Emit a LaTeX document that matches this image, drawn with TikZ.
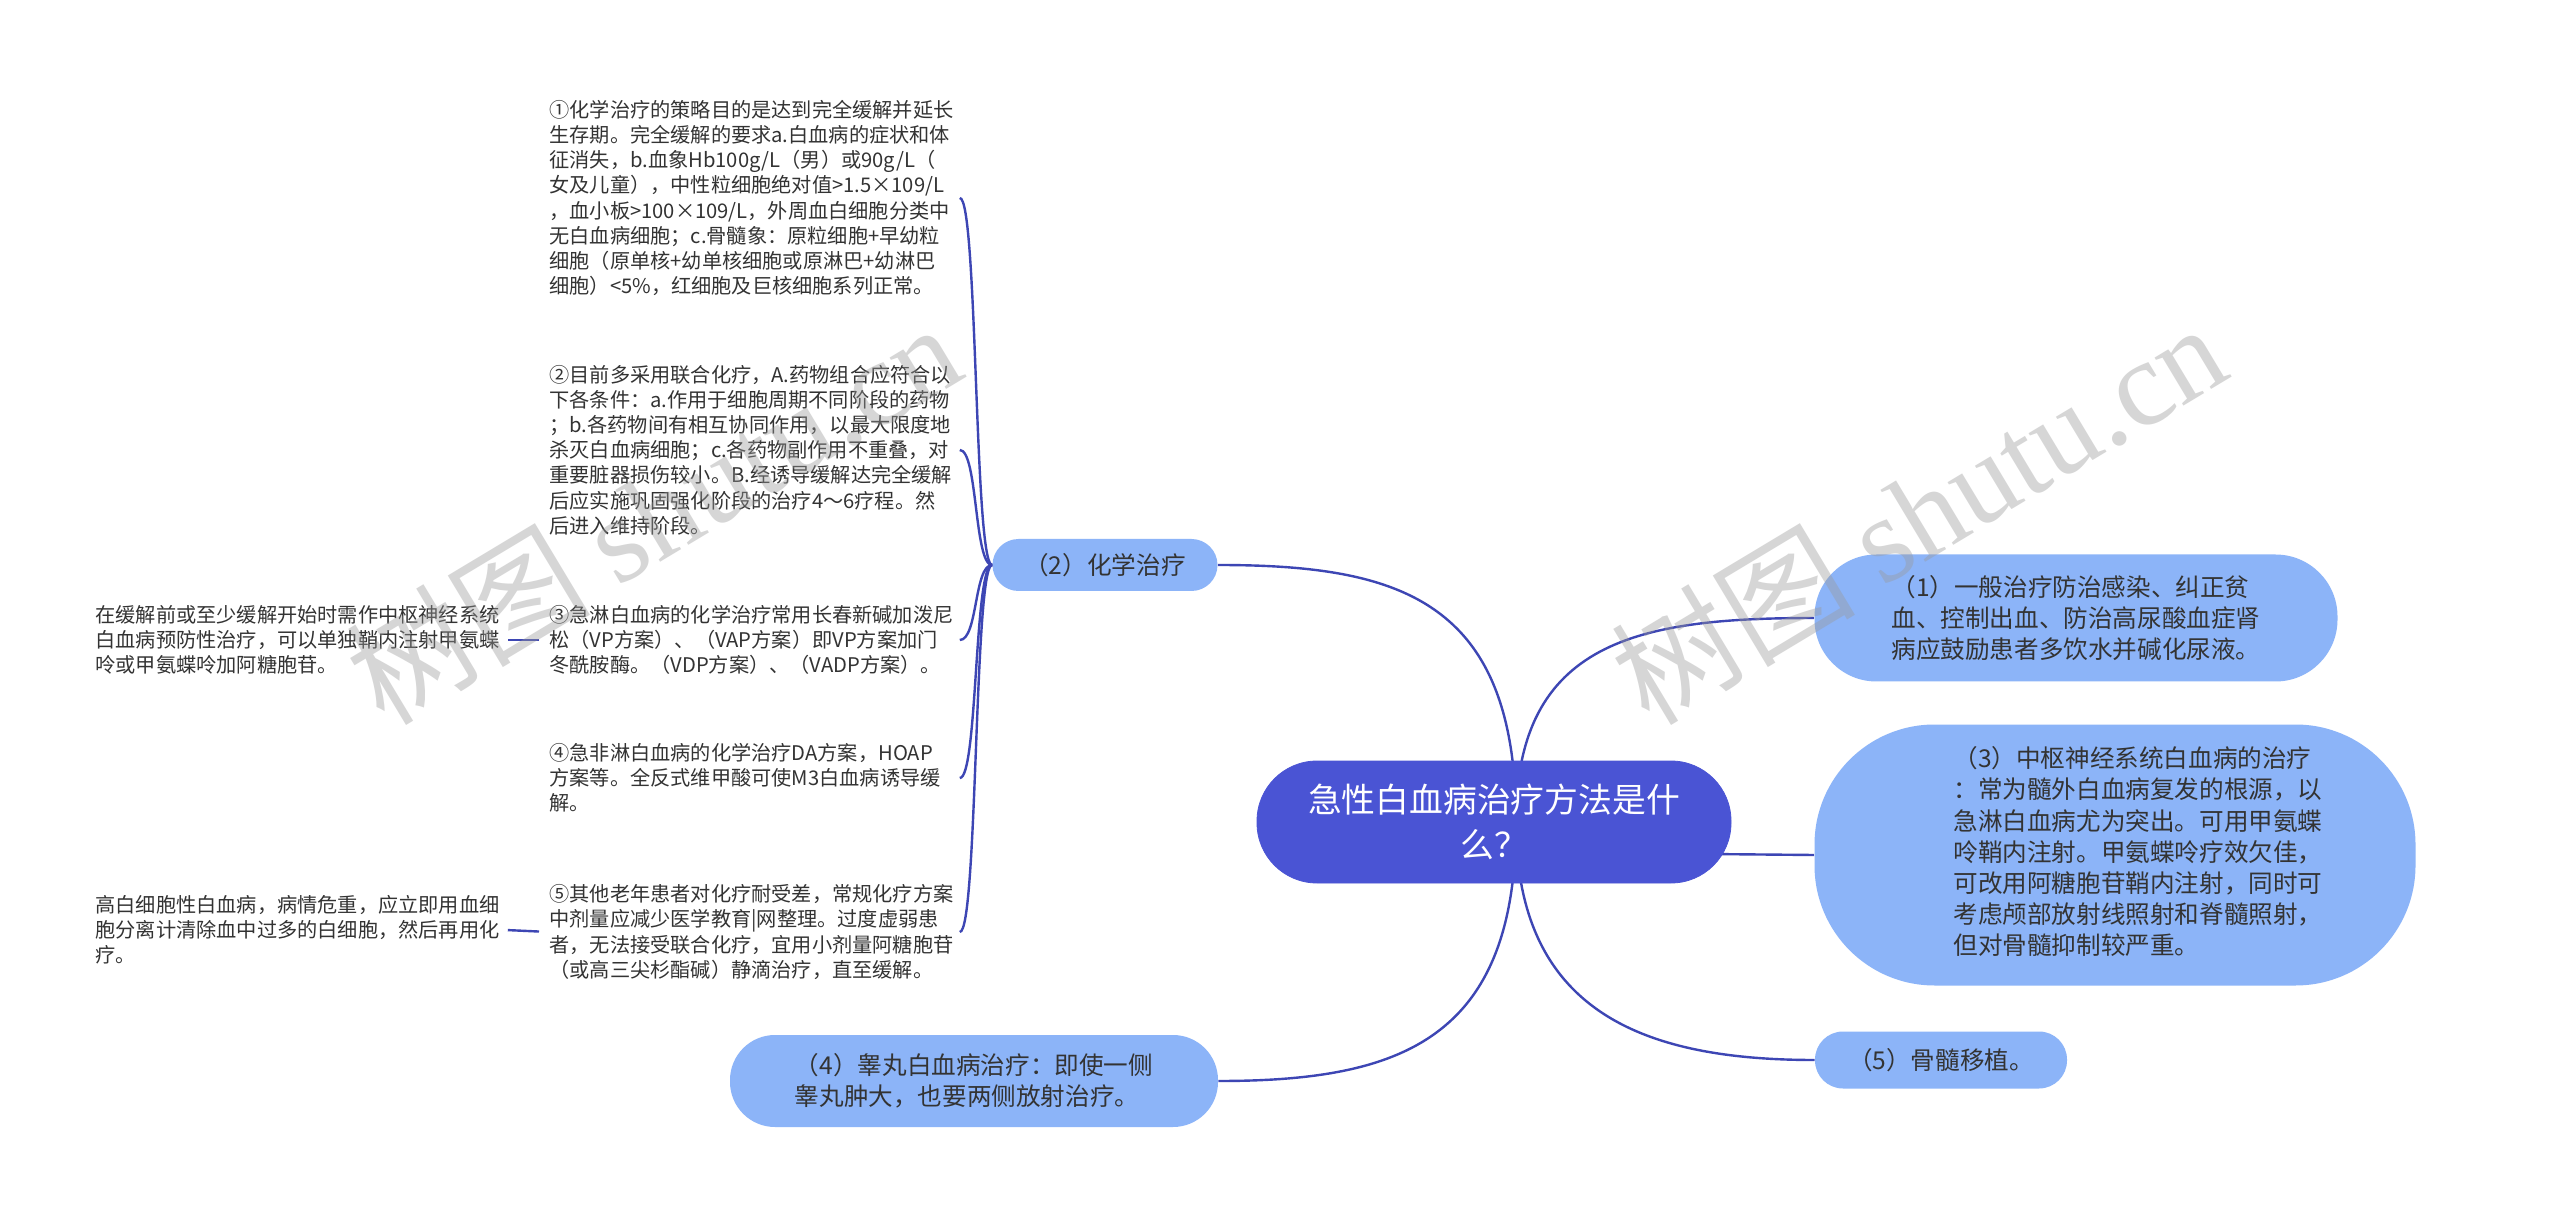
\documentclass[tikz,border=0pt]{standalone}
\usepackage{fontspec}
\setmainfont{Noto Sans CJK SC}
\newfontfamily\wmfont{Liberation Serif}
\usetikzlibrary{backgrounds}
\definecolor{linkblue}{HTML}{3D46B4}
\definecolor{rootblue}{HTML}{4A54D4}
\definecolor{branchblue}{HTML}{8CB4F8}
\definecolor{txtgray}{HTML}{333333}
\tikzset{%
    root/.style={rounded corners=30pt,fill=rootblue,draw=rootblue,text=white,minimum width=237pt,minimum height=61pt,font=\fontsize{16.9}{22.5}\selectfont,align=center},
    branch/.style={fill=branchblue,text=txtgray,font=\fontsize{12.3}{15.6}\selectfont,inner sep=0pt},
    leaf/.style={text=txtgray,font=\fontsize{10.1}{12.6}\selectfont,align=left,text width=205pt,inner sep=0pt,anchor=west},
    link/.style={draw=linkblue,line width=1.2pt},
    wmark/.style={text=black!40,opacity=0.4,rotate=31,font=\fontsize{61}{64}\selectfont}
}

\begin{document}
\begin{tikzpicture}[x=0.5pt,y=-0.5pt]
        \useasboundingbox (0,0) rectangle (2560,1213);

        \node[root] (root) at (1494,822){急性白血病治疗方法是什\\么？};

        \node[branch,align=left,rounded corners=31pt,minimum width=261.5pt,minimum height=63.5pt] (n1) at (2076,618){（1）一般治疗防治感染、纠正贫\\血、控制出血、防治高尿酸血症肾\\病应鼓励患者多饮水并碱化尿液。};
        \node[branch,align=left,rounded corners=13pt,minimum width=112.5pt,minimum height=26pt] (n2) at (1105,565){（2）化学治疗};
        \node[branch,rounded corners=60pt,minimum width=300.5pt,minimum height=130.5pt] (n3) at (2115,855){\begin{tabular}{@{\hspace{23pt}}l@{}}（3）中枢神经系统白血病的治疗\\：常为髓外白血病复发的根源，以\\急淋白血病尤为突出。可用甲氨蝶\\呤鞘内注射。甲氨蝶呤疗效欠佳，\\可改用阿糖胞苷鞘内注射，同时可\\考虑颅部放射线照射和脊髓照射，\\但对骨髓抑制较严重。\end{tabular}};
        \node[branch,align=left,rounded corners=22.5pt,minimum width=244pt,minimum height=46pt] (n4) at (974,1081){（4）睾丸白血病治疗：即使一侧\\睾丸肿大，也要两侧放射治疗。};
        \node[branch,align=left,rounded corners=14pt,minimum width=126pt,minimum height=28.5pt] (n5) at (1941,1060){（5）骨髓移植。};

        \node[leaf] (l1) at (549,198){①化学治疗的策略目的是达到完全缓解并延长\\生存期。完全缓解的要求a.白血病的症状和体\\征消失，b.血象Hb100g/L（男）或90g/L（\\女及儿童），中性粒细胞绝对值>1.5×109/L\\，血小板>100×109/L，外周血白细胞分类中\\无白血病细胞；c.骨髓象：原粒细胞+早幼粒\\细胞（原单核+幼单核细胞或原淋巴+幼淋巴\\细胞）<5\%，红细胞及巨核细胞系列正常。};
        \node[leaf] (l2) at (549,450){②目前多采用联合化疗，A.药物组合应符合以\\下各条件：a.作用于细胞周期不同阶段的药物\\；b.各药物间有相互协同作用，以最大限度地\\杀灭白血病细胞；c.各药物副作用不重叠，对\\重要脏器损伤较小。B.经诱导缓解达完全缓解\\后应实施巩固强化阶段的治疗4～6疗程。然\\后进入维持阶段。};
        \node[leaf] (l3) at (549,640){③急淋白血病的化学治疗常用长春新碱加泼尼\\松（VP方案）、（VAP方案）即VP方案加门\\冬酰胺酶。（VDP方案）、（VADP方案）。};
        \node[leaf] (l4) at (549,778){④急非淋白血病的化学治疗DA方案，HOAP\\方案等。全反式维甲酸可使M3白血病诱导缓\\解。};
        \node[leaf] (l5) at (549,932){⑤其他老年患者对化疗耐受差，常规化疗方案\\中剂量应减少医学教育|网整理。过度虚弱患\\者，无法接受联合化疗，宜用小剂量阿糖胞苷\\（或高三尖杉酯碱）静滴治疗，直至缓解。};

        \node[leaf] (s3) at (95,640){在缓解前或至少缓解开始时需作中枢神经系统\\白血病预防性治疗，可以单独鞘内注射甲氨蝶\\呤或甲氨蝶呤加阿糖胞苷。};
        \node[leaf] (s5) at (95,930){高白细胞性白血病，病情危重，应立即用血细\\胞分离计清除血中过多的白细胞，然后再用化\\疗。};

        \begin{scope}[on background layer]
        \fill[white] (0,0) rectangle (2560,1213);
        \draw[link] ([xshift=11pt]root.center) .. controls ([xshift=11pt,yshift=111pt]root.center) and ([xshift=91pt]n2.east) .. (n2.east);
        \draw[link] ([xshift=11pt]root.center) .. controls ([xshift=11pt,yshift=91pt]root.center) and ([xshift=-87pt]n1.west) .. (n1.west);
        \draw[link] ([yshift=-15pt]root.center) -- (n3.west);
        \draw[link] ([xshift=11pt]root.center) .. controls ([xshift=11pt,yshift=-109pt]root.center) and ([xshift=91pt]n4.east) .. (n4.east);
        \draw[link] ([xshift=11pt]root.center) .. controls ([xshift=11pt,yshift=-94pt]root.center) and ([xshift=-87pt]n5.west) .. (n5.west);
        \end{scope}

        \foreach \leafname in {l1,l2,l3,l4,l5}
            \draw[link] (n2.west) .. controls ([xshift=-9pt]n2.west) and ([xshift=9pt]\leafname.east) .. (\leafname.east);

        \draw[link,shorten <=5pt,shorten >=1pt] (l3.west) -- (s3.east);
        \draw[link,shorten <=5pt,shorten >=1pt] (l5.west) -- (s5.east);

        \node[wmark] (wm1) at (653,512){树图 {\wmfont shutu.cn}};
        \node[wmark] (wm2) at (1918,512){树图 {\wmfont shutu.cn}};
    \end{tikzpicture}
\end{document}
